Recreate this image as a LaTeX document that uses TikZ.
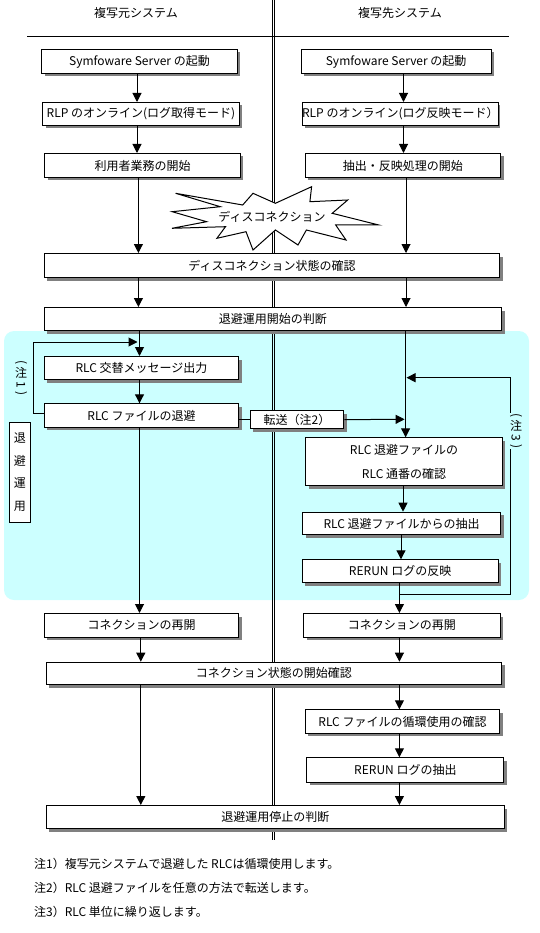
\documentclass[tikz,border=0pt]{standalone}
\usepackage{fontspec}
\setmainfont{Noto Sans CJK JP}
\usetikzlibrary{arrows.meta}
\definecolor{bgcyan}{RGB}{204,255,255}
\definecolor{shgray}{RGB}{128,128,128}
\newcommand\flowbox[6]{%
  \fill[shgray] ({#2+3.5},{#3+3.5}) rectangle ({#4+3.5},{#5+3.5});
  \node[box,anchor=north west,minimum width={(#4-#2)*1pt},minimum height={(#5-#3)*1pt}] (#1) at (#2,#3) {#6};}
\begin{document}
\begin{tikzpicture}[x=1pt,y=-1pt,
  txt/.style={font=\fontsize{12}{14.4}\selectfont,inner sep=0pt},
  box/.style={txt,draw=black,fill=white,line width=1pt,align=center},
  ln/.style={line width=1pt,draw=black},
  arr/.style={ln,-{Triangle[width=9pt,length=9pt]}}]
\useasboundingbox (0,0) rectangle (540,933);
% background for the fallback operation
\fill[bgcyan,rounded corners=10pt] (4,331) rectangle (529,600);
% column separator and header rule
\draw[ln] (272,0) -- (272,840);
\draw[ln] (274.5,0) -- (274.5,840);
\draw[ln] (27,37) -- (509,37);
\node[txt] (hL) at (136,13) {複写元システム};
\node[txt] (hR) at (400,13) {複写先システム};
% column x positions
\coordinate (xa) at (137,0);
\coordinate (xb) at (138.4,0);
\coordinate (xc) at (139.5,0);
\coordinate (xd) at (140.8,0);
\coordinate (ra) at (403.5,0);
\coordinate (rb) at (406,0);
\coordinate (rc) at (405.6,0);
\coordinate (rd) at (403,0);
\coordinate (re) at (401,0);
\coordinate (rf) at (399.4,0);
% free connector ends
\coordinate (n1a) at (33,342);
\coordinate (n1b) at (137.5,342);
\coordinate (n2t) at (404.6,419.3);
\coordinate (n3a) at (399.4,594);
\coordinate (n3b) at (510.6,377.7);
\coordinate (n3c) at (406.5,377.7);
% boxes
\flowbox{b1l}{41.3}{49}{236.6}{73}{Symfoware Server の起動}
\flowbox{b2l}{42.4}{102}{238.6}{125}{RLP のオンライン(ログ取得モード)}
\flowbox{b3l}{44.4}{153}{239.7}{177}{利用者業務の開始}
\flowbox{b1r}{300.6}{49}{490.7}{73}{Symfoware Server の起動}
\flowbox{b2r}{301.6}{102}{496.9}{125}{RLP のオンライン(ログ反映モード）}
\flowbox{b3r}{304.7}{153}{500}{177}{抽出・反映処理の開始}
\flowbox{b4}{43.7}{253}{499.3}{277}{ディスコネクション状態の確認}
\flowbox{b5}{43.7}{307}{501}{330}{退避運用開始の判断}
\flowbox{c1l}{43.7}{356}{238.3}{379}{RLC 交替メッセージ出力}
\flowbox{c2l}{43.7}{403.3}{238.3}{426.7}{RLC ファイルの退避}
\flowbox{tx}{249.6}{410}{343.3}{428.3}{転送（注2）}
\flowbox{c1r}{305.4}{437.3}{501.7}{485}{RLC 退避ファイルの\\[9.6pt]RLC 通番の確認}
\flowbox{c2r}{302.3}{511.7}{500}{534.3}{RLC 退避ファイルからの抽出}
\flowbox{c3r}{301.6}{559.3}{497.6}{582.3}{RERUN ログの反映}
\flowbox{d1l}{43.7}{613}{238.3}{636.7}{コネクションの再開}
\flowbox{d1r}{303}{613}{499.5}{636.7}{コネクションの再開}
\flowbox{d2}{45.8}{661.7}{501}{684}{コネクション状態の開始確認}
\flowbox{d3r}{304.7}{709.3}{499.3}{732.7}{RLC ファイルの循環使用の確認}
\flowbox{d4r}{306.4}{757.3}{503.4}{781.7}{RERUN ログの抽出}
\flowbox{d5}{45.8}{805}{503.8}{828.3}{退避運用停止の判断}
% left column arrows
\draw[arr] (b1l.south -| xa) -- (b2l.north -| xa);
\draw[arr] (b2l.south -| xa) -- (b3l.north -| xa);
\draw[arr] (b3l.south -| xb) -- (b4.north -| xb);
\draw[arr] (b4.south -| xb) -- (b5.north -| xb);
\draw[arr] (b5.south -| xc) -- (c1l.north -| xc);
\draw[arr] (c1l.south -| xc) -- (c2l.north -| xc);
\draw[arr] (c2l.south -| xc) -- (d1l.north -| xc);
\draw[arr] (d1l.south -| xd) -- (d2.north -| xd);
\draw[arr] (d2.south -| xd) -- (d5.north -| xd);
% right column arrows
\draw[arr] (b1r.south -| ra) -- (b2r.north -| ra);
\draw[arr] (b2r.south -| ra) -- (b3r.north -| ra);
\draw[arr] (b3r.south -| rb) -- (b4.north -| rb);
\draw[arr] (b4.south -| rb) -- (b5.north -| rb);
\draw[arr] (b5.south -| rc) -- (c1r.north -| rc);
\draw[arr] (c1r.south -| rd) -- (c2r.north -| rd);
\draw[arr] (c2r.south -| re) -- (c3r.north -| re);
\draw[arr] (c3r.south -| rf) -- (d1r.north -| rf);
\draw[arr] (d1r.south -| rf) -- (d2.north -| rf);
\draw[arr] (d2.south -| rf) -- (d3r.north -| rf);
\draw[arr] (d3r.south -| rf) -- (d4r.north -| rf);
\draw[arr] (d4r.south -| rf) -- (d5.north -| rf);
% loops and transfer
\draw[arr] (c2l.west |- 0,413) -| (n1a) -- (n1b);
\draw[ln] (c2l.east |- tx.west) -- (tx.west);
\draw[arr] (tx.east) -- (n2t);
\draw[arr] (n3a) -| (n3b) -- (n3c);
% disconnection burst
\draw[ln,fill=white] (175.6,193.3) -- (242.7,205) -- (253,193.3) -- (275.4,203.3)
  -- (311.6,186.7) -- (309.9,201.7) -- (347.7,200) -- (332.2,213.3)
  -- (378.7,225) -- (335.7,225) -- (346,240) -- (306.4,230)
  -- (298,245) -- (275.4,230) -- (253,250) -- (246,231.7)
  -- (216.9,238.3) -- (225.5,226.7) -- (172,228.3) -- (206.6,221.7)
  -- (172.2,211.7) -- (220.3,206.7) -- cycle;
\node[txt] (burst) at (272,217) {ディスコネクション};
% side labels
\node[txt,draw=black,fill=white,line width=1pt,minimum width=21pt,minimum height=100pt,
  align=center,font=\fontsize{12}{22.7}\selectfont] (lbl) at (19.8,472) {退\\避\\運\\用};
\node[txt] (note1v) at (21,378) {\shortstack{\rotatebox{-90}{(}\\注\\\rotatebox{-90}{1}\\\rotatebox{-90}{)}}};
\node[txt,fill=bgcyan,inner sep=1pt] (note3v) at (516,431) {\shortstack{\rotatebox{-90}{(}\\注\\\rotatebox{-90}{3}\\\rotatebox{-90}{)}}};
% notes
\node[txt,anchor=west] (note1) at (34,864) {注1）複写元システムで退避した RLCは循環使用します。};
\node[txt,anchor=west] (note2) at (34,888) {注2）RLC 退避ファイルを任意の方法で転送します。};
\node[txt,anchor=west] (note3) at (34,912) {注3）RLC 単位に繰り返します。};
\end{tikzpicture}
\end{document}
